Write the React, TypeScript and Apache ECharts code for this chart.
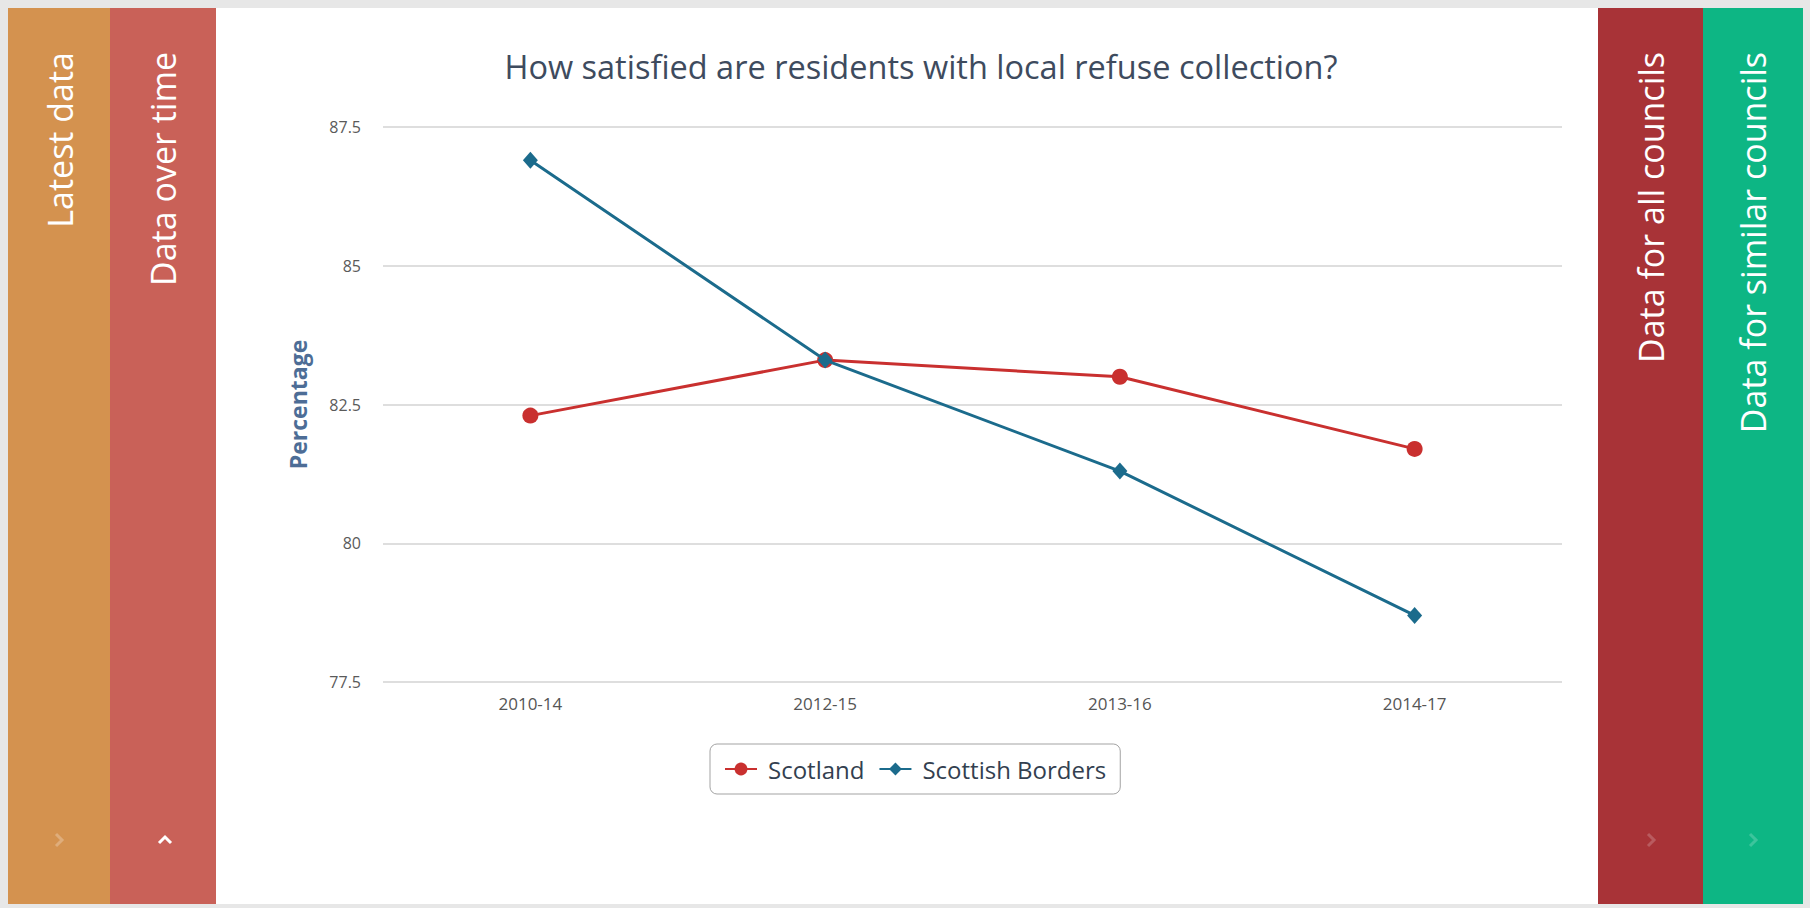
import React, { useEffect, useRef } from 'react';
import * as echarts from 'echarts';

const categories = ['2010-14', '2012-15', '2013-16', '2014-17'];
const scotlandValues = [82.3, 83.3, 83.0, 81.7];
const bordersValues = [86.9, 83.3, 81.3, 78.7];
const seriesNames = ['Scotland', 'Scottish Borders'];
const yMin = 77.5;
const yMax = 87.5;
const yStep = 2.5;
const titleText = 'How satisfied are residents with local refuse collection?';
const yAxisName = 'Percentage';
const panelLabels = ['Latest data', 'Data over time', 'Data for all councils', 'Data for similar councils'];

const FONT = '"Open Sans", "Noto Sans", sans-serif';

function panelText(label: string, x: number) {
  return {
    type: 'text',
    x,
    y: 52,
    rotation: Math.PI / 2,
    silent: true,
    style: {
      text: label,
      fill: '#ffffff',
      font: `normal 34px ${FONT}`,
      align: 'right',
      textAlign: 'right',
      verticalAlign: 'middle',
      textVerticalAlign: 'middle',
    },
  };
}

function chevronRight(x: number, y: number, color: string) {
  return {
    type: 'polyline',
    silent: true,
    shape: { points: [[x - 3, y - 6], [x + 3, y], [x - 3, y + 6]] },
    style: { stroke: color, lineWidth: 3, fill: 'none' },
  };
}

export default function App() {
  const ref = useRef<HTMLDivElement>(null);
  useEffect(() => {
    const chart = echarts.init(ref.current!, null, { renderer: 'svg' });
    chart.setOption({
      animation: false,
      backgroundColor: '#ffffff',
      title: {
        text: titleText,
        left: 916,
        top: 45,
        textAlign: 'center',
        textStyle: { fontFamily: FONT, fontSize: 32.5, fontWeight: 'normal', color: '#3e4b5e' },
      },
      legend: {
        data: seriesNames,
        left: 710,
        top: 744,
        itemGap: 14,
        itemWidth: 32,
        itemHeight: 16,
        padding: [13, 14, 13, 14],
        borderColor: '#a3a3a3',
        borderWidth: 1,
        borderRadius: 7,
        textStyle: { fontFamily: FONT, fontSize: 24, color: '#333f50', padding: [0, 0, 0, 6] },
      },
      grid: { left: 383, right: 248, top: 127, bottom: 226 },
      xAxis: {
        type: 'category',
        data: categories,
        boundaryGap: true,
        axisLine: { show: false },
        axisTick: { show: false },
        axisLabel: { fontFamily: FONT, fontSize: 17, color: '#555555', margin: 13 },
      },
      yAxis: {
        type: 'value',
        min: yMin,
        max: yMax,
        interval: yStep,
        name: yAxisName,
        nameLocation: 'middle',
        nameRotate: 90,
        nameGap: 74,
        nameTextStyle: { fontFamily: FONT, fontSize: 23, fontWeight: 'bold', color: '#4d6d96' },
        axisLine: { show: false },
        axisTick: { show: false },
        axisLabel: { fontFamily: FONT, fontSize: 16, color: '#5a5a5a', margin: 22 },
        splitLine: { lineStyle: { color: '#d3d3d3', width: 1.5 } },
      },
      series: [
        {
          name: seriesNames[0],
          type: 'line',
          data: scotlandValues,
          symbol: 'circle',
          symbolSize: 16,
          color: '#c9302f',
          lineStyle: { width: 3, color: '#c9302f' },
          itemStyle: { color: '#c9302f' },
          z: 2,
        },
        {
          name: seriesNames[1],
          type: 'line',
          data: bordersValues,
          symbol: 'diamond',
          symbolSize: [15, 17],
          color: '#1b6b8c',
          lineStyle: { width: 3, color: '#1b6b8c' },
          itemStyle: { color: '#1b6b8c' },
          z: 3,
        },
      ],
      graphic: [
        { type: 'rect', silent: true, shape: { x: 0, y: 0, width: 1810, height: 8 }, style: { fill: '#e7e7e7' } },
        { type: 'rect', silent: true, shape: { x: 0, y: 0, width: 8, height: 908 }, style: { fill: '#e7e7e7' } },
        { type: 'rect', silent: true, shape: { x: 1803, y: 0, width: 7, height: 908 }, style: { fill: '#e7e7e7' } },
        { type: 'rect', silent: true, shape: { x: 0, y: 904, width: 1810, height: 4 }, style: { fill: '#e7e7e7' } },
        { type: 'rect', silent: true, shape: { x: 8, y: 8, width: 102, height: 896 }, style: { fill: '#d4924f' } },
        { type: 'rect', silent: true, shape: { x: 110, y: 8, width: 106, height: 896 }, style: { fill: '#c96158' } },
        { type: 'rect', silent: true, shape: { x: 1598, y: 8, width: 105, height: 896 }, style: { fill: '#a83337' } },
        { type: 'rect', silent: true, shape: { x: 1703, y: 8, width: 100, height: 896 }, style: { fill: '#0db684' } },
        panelText(panelLabels[0], 60),
        panelText(panelLabels[1], 163),
        panelText(panelLabels[2], 1651),
        panelText(panelLabels[3], 1753),
        chevronRight(59, 840, 'rgba(255,255,255,0.25)'),
        {
          type: 'polyline',
          silent: true,
          shape: { points: [[159, 843], [165, 837], [171, 843]] },
          style: { stroke: '#ffffff', lineWidth: 3, fill: 'none' },
        },
        chevronRight(1651, 840, 'rgba(255,255,255,0.2)'),
        chevronRight(1753, 840, 'rgba(255,255,255,0.2)'),
      ],
    });
    return () => chart.dispose();
  }, []);
  return (
    <div
      ref={ref}
      style={{ position: 'fixed', left: 0, top: 0, width: 1810, height: 908 }}
    />
  );
}
